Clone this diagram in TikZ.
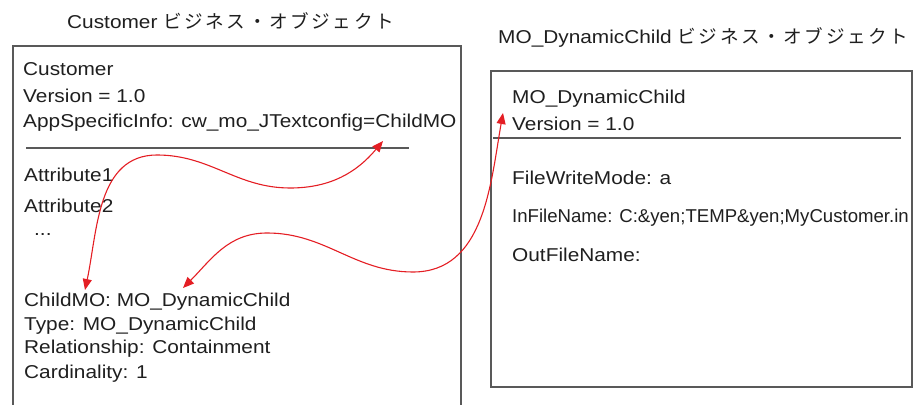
\documentclass[tikz,border=0pt]{standalone}
\usepackage{fontspec}
\setmainfont[FakeStretch=1.12]{Liberation Sans}
\newfontfamily\narrowfont{Liberation Sans}
\newfontfamily\jpfont[LetterSpace=14]{Noto Sans CJK JP}
\usetikzlibrary{arrows.meta}
\definecolor{linkred}{RGB}{228,30,36}
\tikzset{
	objbox/.style={line width=1.3pt, color=black!65},
	txt/.style={anchor=base west, inner sep=0pt, font=\fontsize{18.6}{22}\selectfont, text=black!88},
	link/.style={line width=1.1pt, color=linkred, {Triangle[length=11pt,width=9pt]}-{Triangle[length=11pt,width=9pt]}},
}

\begin{document}
\begin{tikzpicture}[x=1pt,y=1pt]
			%%%%% START %%%%%
			\useasboundingbox (0,0) rectangle (915,404);
			
			% Customer object
			\node[txt] (custtitle) at (67,375) {Customer {\jpfont ビジネス・オブジェクト}};
			\draw[objbox] (13,-3) -- (13,358) -- (461,358) -- (461,-3);
			
			\node[txt] (custname) at (23,328) {Customer};
			\node[txt] (custver) at (23,301) {Version = 1.0};
			\node[txt] (custasi) at (23,276) {AppSpecificInfo: cw\_mo\_JTextconfig=ChildMO};
			\draw[objbox] (26,256) -- (409,256);
			
			\node[txt] (attr1) at (24,222) {Attribute1};
			\node[txt] (attr2) at (24,191) {Attribute2};
			\node[txt] (dots) at (34,168) {...};
			
			\node[txt] (childmo) at (24,97) {ChildMO: MO\_DynamicChild};
			\node[txt] (childtype) at (24,73) {Type: MO\_DynamicChild};
			\node[txt] (childrel) at (24,50) {Relationship: Containment};
			\node[txt] (childcard) at (24,25) {Cardinality: 1};
			
			% MO_DynamicChild object
			\node[txt] (dyntitle) at (498,360) {MO\_DynamicChild {\jpfont ビジネス・オブジェクト}};
			\draw[objbox] (491,17) rectangle (912,333);
			
			\node[txt] (dynname) at (512,300) {MO\_DynamicChild};
			\node[txt] (dynver) at (512,273) {Version = 1.0};
			\draw[objbox] (493,266) -- (901,266);
			
			\node[txt] (dynmode) at (512,219) {FileWriteMode: a};
			\node[txt, font=\fontsize{18.6}{22}\narrowfont] (dynin) at (512,181) {InFileName: C:\&yen;TEMP\&yen;MyCustomer.in};
			\node[txt] (dynout) at (512,142) {OutFileName:};
			
			% links
			\coordinate (asiref) at (383,263);
			\coordinate (childref) at (85,114);
			\coordinate (typeref) at (183,116);
			\coordinate (nameref) at (503,291);
			
			\draw[link] (childref) to[out=78,in=180] (157,249) to[out=0,in=180] (290,216) to[out=0,in=230] (asiref);
			\draw[link] (typeref) to[out=45,in=180] (267,171) to[out=0,in=180] (413,132) to[out=0,in=260] (nameref);
			
			%%%%% END %%%%%
\end{tikzpicture}
\end{document}
